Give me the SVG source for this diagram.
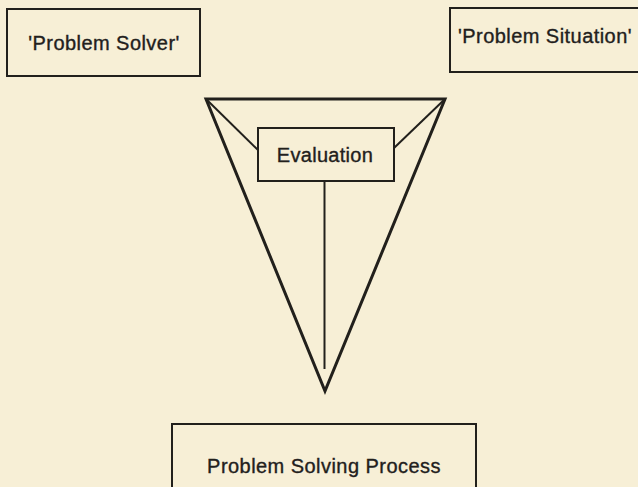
<svg xmlns="http://www.w3.org/2000/svg" width="638" height="487" viewBox="0 0 638 487">
<style>
.box{fill:none;stroke:#22201c;stroke-width:2}
.lbl{font-family:"Liberation Sans",Arial,sans-serif;font-size:20px;fill:#22201c;stroke:#22201c;stroke-width:0.35;text-anchor:middle;letter-spacing:0.45px}
.thick{fill:none;stroke:#22201c;stroke-width:3;stroke-linejoin:miter}
.thin{fill:none;stroke:#22201c;stroke-width:2}
</style>
<rect x="0" y="0" width="638" height="487" fill="#f7efd6"/>
<g id="problem-solver">
<rect class="box" x="7" y="9" width="193" height="67"/>
<text class="lbl" x="104" y="50">'Problem Solver'</text>
</g>
<g id="problem-situation">
<rect class="box" x="450" y="8" width="200" height="64"/>
<text class="lbl" x="545" y="43">'Problem Situation'</text>
</g>
<g id="funnel">
<polygon class="thick" points="206,99 445,99 325,391"/>
</g>
<g id="connectors">
<line class="thin" x1="206" y1="99" x2="258" y2="150"/>
<line class="thin" x1="445" y1="99" x2="394" y2="148"/>
<line class="thin" x1="324.5" y1="181" x2="324.5" y2="369"/>
</g>
<g id="evaluation">
<rect class="box" x="258" y="128" width="136" height="53" fill="#f7efd6"/>
<text class="lbl" x="325" y="162" style="letter-spacing:0.3px">Evaluation</text>
</g>
<g id="problem-solving-process">
<rect class="box" x="172" y="424" width="304" height="80"/>
<text class="lbl" x="324" y="473">Problem Solving Process</text>
</g>
</svg>
